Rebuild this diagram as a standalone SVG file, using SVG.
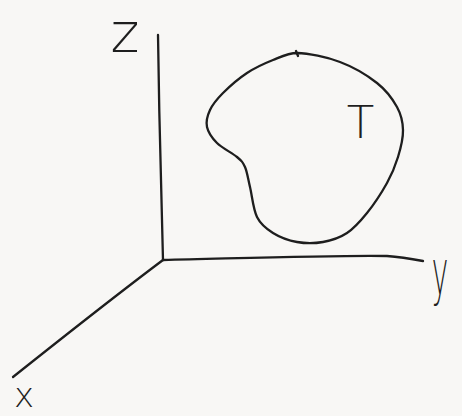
<svg xmlns="http://www.w3.org/2000/svg" width="462" height="416" viewBox="0 0 462 416">
  <style>
    .ink { fill: none; stroke: #1e1e1e; stroke-width: 2.3; stroke-linecap: round; stroke-linejoin: round; }
    .lbl { font-family: "DejaVu Sans", "Liberation Sans", sans-serif; font-weight: 200; fill: #1e1e1e; text-anchor: middle; }
  </style>
  <rect width="462" height="416" fill="#f8f7f5"/>
  <g id="axes">
    <path class="ink" d="M158,35 C159,110 161,190 163,260"/>
    <path class="ink" d="M163,260 C250,258 340,255 387,256 C400,257 412,259 423,261"/>
    <path class="ink" d="M163,260 C115,296 62,338 13,377"/>
  </g>
  <g id="region-T">
    <path class="ink" d="M297,53 C308.2,53.3 326.7,57 340,62 C353.3,67 367.5,75.5 377,83 C386.5,90.5 392.7,99.2 397,107 C401.3,114.8 402.8,121.7 403,130 C403.2,138.3 400.7,148.2 398,157 C395.3,165.8 392.2,173.7 387,183 C381.8,192.3 373.7,204.7 367,213 C360.3,221.3 354.3,228.2 347,233 C339.7,237.8 331.3,240.5 323,242 C314.7,243.5 305.3,243.5 297,242 C288.7,240.5 279.7,237.2 273,233 C266.3,228.8 260.8,224.7 257,217 C253.2,209.3 252,195.3 250,187 C248,178.7 247.2,172 245,167 C242.8,162 241.7,161 237,157 C232.3,153 222,148 217,143 C212,138 208.2,132.5 207,127 C205.8,121.5 207.3,115.7 210,110 C212.7,104.3 216.8,99.2 223,93 C229.2,86.8 238.7,78.5 247,73 C255.3,67.5 264.7,63.3 273,60 C281.3,56.7 288.7,53 297,53 Z"/>
    <path class="ink" d="M296,51 L298,56"/>
    <text class="lbl" x="360.5" y="138" font-size="45">T</text>
  </g>
  <g id="labels">
    <text class="lbl" x="125" y="52" font-size="55">z</text>
    <text class="lbl" transform="translate(440,294) scale(0.45,1)" x="0" y="0" font-size="62">y</text>
    <text class="lbl" x="24" y="407" font-size="34">x</text>
  </g>
</svg>
